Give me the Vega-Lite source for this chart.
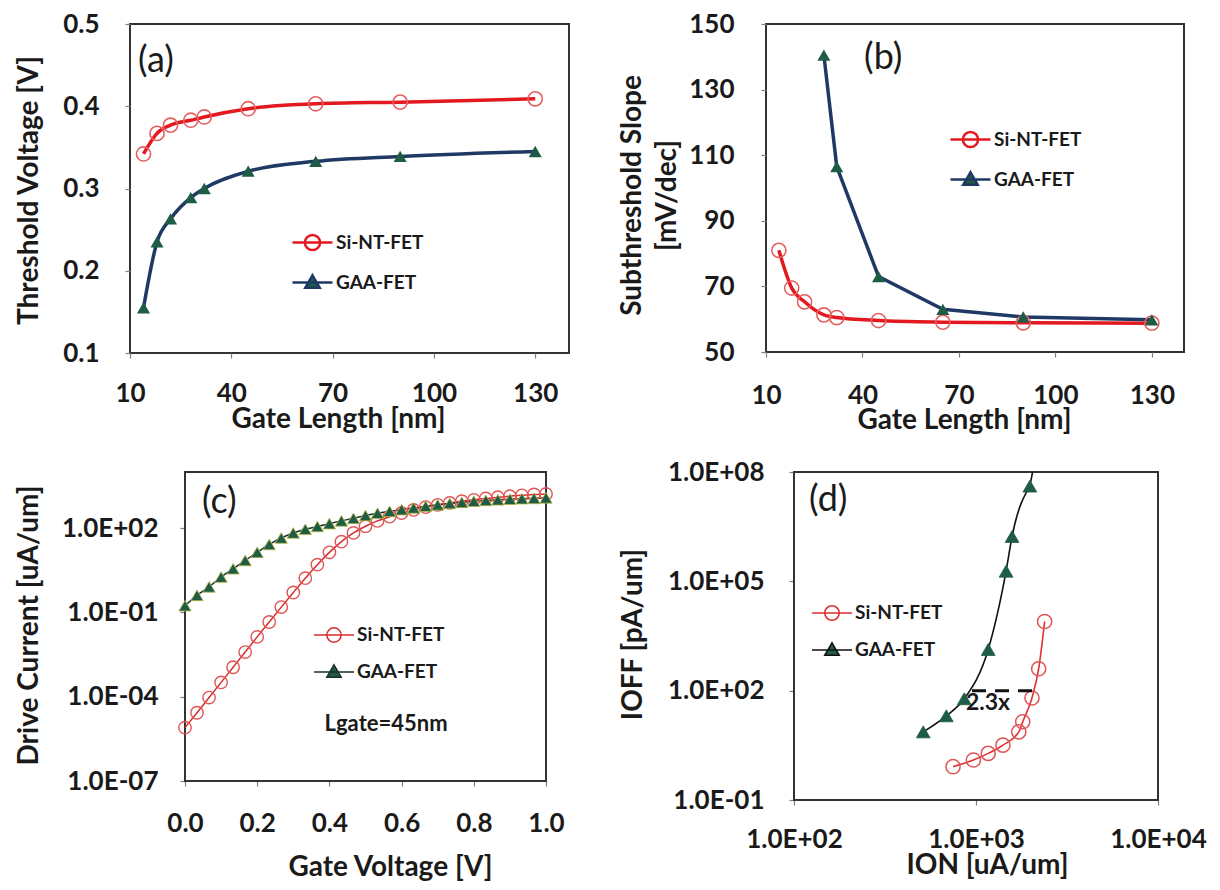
{
  "$schema": "https://vega.github.io/schema/vega-lite/v6.json",
  "background": "white",
  "padding": {"left": 13, "top": 10, "right": 5, "bottom": 5},
  "config": {
    "font": "Lato",
    "view": {"stroke": "#333333", "strokeWidth": 2},
    "axis": {
      "labelFont": "Lato", "labelFontWeight": "bold", "labelFontSize": 26, "labelColor": "#1a1a1a",
      "titleFont": "Lato", "titleFontWeight": "bold", "titleFontSize": 28, "titleColor": "#1a1a1a",
      "titleBaseline": "middle",
      "grid": false, "domain": false, "tickColor": "#7f7f7f", "tickSize": 5, "tickWidth": 1.2,
      "labelFlush": false, "labelOverlap": false
    },
    "axisX": {"labelBaseline": "middle"},
    "legend": {
      "orient": "none", "padding": 0, "labelFont": "Lato", "labelFontSize": 19, "labelFontWeight": "bold",
      "labelColor": "#1a1a1a", "labelOffset": 2, "rowPadding": 5, "symbolSize": 1600
    },
    "text": {"font": "Lato", "color": "#1a1a1a"},
    "tick": {"color": "#8c8c8c", "thickness": 1, "size": 6, "opacity": 1}
  },
  "datasets": {
    "vth": [
      {"L": 14, "Vt": 0.342, "device": "Si-NT-FET"},
      {"L": 18, "Vt": 0.367, "device": "Si-NT-FET"},
      {"L": 22, "Vt": 0.377, "device": "Si-NT-FET"},
      {"L": 28, "Vt": 0.383, "device": "Si-NT-FET"},
      {"L": 32, "Vt": 0.387, "device": "Si-NT-FET"},
      {"L": 45, "Vt": 0.397, "device": "Si-NT-FET"},
      {"L": 65, "Vt": 0.403, "device": "Si-NT-FET"},
      {"L": 90, "Vt": 0.405, "device": "Si-NT-FET"},
      {"L": 130, "Vt": 0.409, "device": "Si-NT-FET"},
      {"L": 14, "Vt": 0.155, "device": "GAA-FET"},
      {"L": 18, "Vt": 0.235, "device": "GAA-FET"},
      {"L": 22, "Vt": 0.263, "device": "GAA-FET"},
      {"L": 28, "Vt": 0.289, "device": "GAA-FET"},
      {"L": 32, "Vt": 0.300, "device": "GAA-FET"},
      {"L": 45, "Vt": 0.321, "device": "GAA-FET"},
      {"L": 65, "Vt": 0.333, "device": "GAA-FET"},
      {"L": 90, "Vt": 0.339, "device": "GAA-FET"},
      {"L": 130, "Vt": 0.345, "device": "GAA-FET"}
    ],
    "ss": [
      {"L": 14, "SS": 81, "device": "Si-NT-FET"},
      {"L": 18, "SS": 69.5, "device": "Si-NT-FET"},
      {"L": 22, "SS": 65.3, "device": "Si-NT-FET"},
      {"L": 28, "SS": 61.3, "device": "Si-NT-FET"},
      {"L": 32, "SS": 60.5, "device": "Si-NT-FET"},
      {"L": 45, "SS": 59.6, "device": "Si-NT-FET"},
      {"L": 65, "SS": 59.1, "device": "Si-NT-FET"},
      {"L": 90, "SS": 58.9, "device": "Si-NT-FET"},
      {"L": 130, "SS": 58.8, "device": "Si-NT-FET"},
      {"L": 28, "SS": 140.5, "device": "GAA-FET"},
      {"L": 32, "SS": 106.5, "device": "GAA-FET"},
      {"L": 45, "SS": 73, "device": "GAA-FET"},
      {"L": 65, "SS": 63, "device": "GAA-FET"},
      {"L": 90, "SS": 60.7, "device": "GAA-FET"},
      {"L": 130, "SS": 59.8, "device": "GAA-FET"}
    ],
    "idvg": [
      {"Vg": 0, "Id": 7.94e-6, "device": "Si-NT-FET"},
      {"Vg": 0.0333, "Id": 2.69e-5, "device": "Si-NT-FET"},
      {"Vg": 0.0667, "Id": 9.33e-5, "device": "Si-NT-FET"},
      {"Vg": 0.1, "Id": 3.24e-4, "device": "Si-NT-FET"},
      {"Vg": 0.1333, "Id": 1.12e-3, "device": "Si-NT-FET"},
      {"Vg": 0.1667, "Id": 3.89e-3, "device": "Si-NT-FET"},
      {"Vg": 0.2, "Id": 1.35e-2, "device": "Si-NT-FET"},
      {"Vg": 0.2333, "Id": 4.57e-2, "device": "Si-NT-FET"},
      {"Vg": 0.2667, "Id": 0.155, "device": "Si-NT-FET"},
      {"Vg": 0.3, "Id": 0.513, "device": "Si-NT-FET"},
      {"Vg": 0.3333, "Id": 1.66, "device": "Si-NT-FET"},
      {"Vg": 0.3667, "Id": 5.01, "device": "Si-NT-FET"},
      {"Vg": 0.4, "Id": 13.8, "device": "Si-NT-FET"},
      {"Vg": 0.4333, "Id": 33.1, "device": "Si-NT-FET"},
      {"Vg": 0.4667, "Id": 67.6, "device": "Si-NT-FET"},
      {"Vg": 0.5, "Id": 117, "device": "Si-NT-FET"},
      {"Vg": 0.5333, "Id": 182, "device": "Si-NT-FET"},
      {"Vg": 0.5667, "Id": 257, "device": "Si-NT-FET"},
      {"Vg": 0.6, "Id": 347, "device": "Si-NT-FET"},
      {"Vg": 0.6333, "Id": 447, "device": "Si-NT-FET"},
      {"Vg": 0.6667, "Id": 562, "device": "Si-NT-FET"},
      {"Vg": 0.7, "Id": 676, "device": "Si-NT-FET"},
      {"Vg": 0.7333, "Id": 794, "device": "Si-NT-FET"},
      {"Vg": 0.7667, "Id": 912, "device": "Si-NT-FET"},
      {"Vg": 0.8, "Id": 1023, "device": "Si-NT-FET"},
      {"Vg": 0.8333, "Id": 1148, "device": "Si-NT-FET"},
      {"Vg": 0.8667, "Id": 1259, "device": "Si-NT-FET"},
      {"Vg": 0.9, "Id": 1380, "device": "Si-NT-FET"},
      {"Vg": 0.9333, "Id": 1479, "device": "Si-NT-FET"},
      {"Vg": 0.9667, "Id": 1585, "device": "Si-NT-FET"},
      {"Vg": 1, "Id": 1660, "device": "Si-NT-FET"},
      {"Vg": 0, "Id": 0.174, "device": "GAA-FET"},
      {"Vg": 0.0333, "Id": 0.407, "device": "GAA-FET"},
      {"Vg": 0.0667, "Id": 0.813, "device": "GAA-FET"},
      {"Vg": 0.1, "Id": 1.82, "device": "GAA-FET"},
      {"Vg": 0.1333, "Id": 3.59, "device": "GAA-FET"},
      {"Vg": 0.1667, "Id": 7.08, "device": "GAA-FET"},
      {"Vg": 0.2, "Id": 13.8, "device": "GAA-FET"},
      {"Vg": 0.2333, "Id": 26.3, "device": "GAA-FET"},
      {"Vg": 0.2667, "Id": 44.7, "device": "GAA-FET"},
      {"Vg": 0.3, "Id": 67.6, "device": "GAA-FET"},
      {"Vg": 0.3333, "Id": 91.2, "device": "GAA-FET"},
      {"Vg": 0.3667, "Id": 115, "device": "GAA-FET"},
      {"Vg": 0.4, "Id": 145, "device": "GAA-FET"},
      {"Vg": 0.4333, "Id": 182, "device": "GAA-FET"},
      {"Vg": 0.4667, "Id": 224, "device": "GAA-FET"},
      {"Vg": 0.5, "Id": 282, "device": "GAA-FET"},
      {"Vg": 0.5333, "Id": 339, "device": "GAA-FET"},
      {"Vg": 0.5667, "Id": 398, "device": "GAA-FET"},
      {"Vg": 0.6, "Id": 457, "device": "GAA-FET"},
      {"Vg": 0.6333, "Id": 525, "device": "GAA-FET"},
      {"Vg": 0.6667, "Id": 603, "device": "GAA-FET"},
      {"Vg": 0.7, "Id": 676, "device": "GAA-FET"},
      {"Vg": 0.7333, "Id": 759, "device": "GAA-FET"},
      {"Vg": 0.7667, "Id": 832, "device": "GAA-FET"},
      {"Vg": 0.8, "Id": 912, "device": "GAA-FET"},
      {"Vg": 0.8333, "Id": 977, "device": "GAA-FET"},
      {"Vg": 0.8667, "Id": 1023, "device": "GAA-FET"},
      {"Vg": 0.9, "Id": 1072, "device": "GAA-FET"},
      {"Vg": 0.9333, "Id": 1122, "device": "GAA-FET"},
      {"Vg": 0.9667, "Id": 1148, "device": "GAA-FET"},
      {"Vg": 1, "Id": 1202, "device": "GAA-FET"}
    ],
    "ioffion": [
      {"Ion": 748, "Ioff": 0.82, "device": "Si-NT-FET"},
      {"Ion": 968, "Ioff": 1.25, "device": "Si-NT-FET"},
      {"Ion": 1167, "Ioff": 1.9, "device": "Si-NT-FET"},
      {"Ion": 1406, "Ioff": 3.2, "device": "Si-NT-FET"},
      {"Ion": 1718, "Ioff": 7.4, "device": "Si-NT-FET"},
      {"Ion": 1806, "Ioff": 14, "device": "Si-NT-FET"},
      {"Ion": 2030, "Ioff": 63, "device": "Si-NT-FET"},
      {"Ion": 2210, "Ioff": 400, "device": "Si-NT-FET"},
      {"Ion": 2383, "Ioff": 7900, "device": "Si-NT-FET"},
      {"Ion": 513, "Ioff": 7.4, "device": "GAA-FET"},
      {"Ion": 687, "Ioff": 20.4, "device": "GAA-FET"},
      {"Ion": 862, "Ioff": 60, "device": "GAA-FET"},
      {"Ion": 1167, "Ioff": 1350, "device": "GAA-FET"},
      {"Ion": 1463, "Ioff": 190000, "device": "GAA-FET"},
      {"Ion": 1578, "Ioff": 1700000, "device": "GAA-FET"},
      {"Ion": 1977, "Ioff": 41000000, "device": "GAA-FET"}
    ],
    "gaaTail": [
      {"Ion": 1977, "Ioff": 41000000},
      {"Ion": 2046, "Ioff": 100000000}
    ],
    "gap": [{"Ion": 951, "IonB": 2083, "Ioff": 100}],
    "gapLabel": [{"Ion": 1164, "Ioff": 47, "label": "2.3x"}],
    "lgate": [{"Vg": 0.557, "Id": 1.07e-5, "label": "Lgate=45nm"}],
    "tagA": [{"L": 12.4, "Vt": 0.455, "label": "(a)"}],
    "tagB": [{"L": 40.5, "SS": 139.6, "label": "(b)"}],
    "tagC": [{"Vg": 0.047, "Id": 855, "label": "(c)"}],
    "tagD": [{"Ion": 121, "Ioff": 17000000, "label": "(d)"}],
    "minorAx": [{"L": 20}, {"L": 30}, {"L": 40}, {"L": 50}, {"L": 60}, {"L": 70}, {"L": 80}, {"L": 90}, {"L": 100}, {"L": 110}, {"L": 120}, {"L": 130}],
    "minorAy": [{"Vt": 0.15}, {"Vt": 0.2}, {"Vt": 0.25}, {"Vt": 0.3}, {"Vt": 0.35}, {"Vt": 0.4}, {"Vt": 0.45}],
    "minorBx": [{"L": 15}, {"L": 20}, {"L": 25}, {"L": 30}, {"L": 35}, {"L": 40}, {"L": 45}, {"L": 50}, {"L": 55}, {"L": 60}, {"L": 65}, {"L": 70}, {"L": 75}, {"L": 80}, {"L": 85}, {"L": 90}, {"L": 95}, {"L": 100}, {"L": 105}, {"L": 110}, {"L": 115}, {"L": 120}, {"L": 125}, {"L": 130}, {"L": 135}],
    "minorBy": [{"SS": 54}, {"SS": 58}, {"SS": 62}, {"SS": 66}, {"SS": 70}, {"SS": 74}, {"SS": 78}, {"SS": 82}, {"SS": 86}, {"SS": 90}, {"SS": 94}, {"SS": 98}, {"SS": 102}, {"SS": 106}, {"SS": 110}, {"SS": 114}, {"SS": 118}, {"SS": 122}, {"SS": 126}, {"SS": 130}, {"SS": 134}, {"SS": 138}, {"SS": 142}, {"SS": 146}],
    "minorCx": [{"Vg": 0.1}, {"Vg": 0.2}, {"Vg": 0.3}, {"Vg": 0.4}, {"Vg": 0.5}, {"Vg": 0.6}, {"Vg": 0.7}, {"Vg": 0.8}, {"Vg": 0.9}],
    "minorCy": [
      {"Id": 2e-7}, {"Id": 4e-7}, {"Id": 6e-7}, {"Id": 8e-7},
      {"Id": 2e-6}, {"Id": 4e-6}, {"Id": 6e-6}, {"Id": 8e-6},
      {"Id": 2e-5}, {"Id": 4e-5}, {"Id": 6e-5}, {"Id": 8e-5},
      {"Id": 2e-4}, {"Id": 4e-4}, {"Id": 6e-4}, {"Id": 8e-4},
      {"Id": 2e-3}, {"Id": 4e-3}, {"Id": 6e-3}, {"Id": 8e-3},
      {"Id": 2e-2}, {"Id": 4e-2}, {"Id": 6e-2}, {"Id": 8e-2},
      {"Id": 0.2}, {"Id": 0.4}, {"Id": 0.6}, {"Id": 0.8},
      {"Id": 2}, {"Id": 4}, {"Id": 6}, {"Id": 8},
      {"Id": 20}, {"Id": 40}, {"Id": 60}, {"Id": 80},
      {"Id": 200}, {"Id": 400}, {"Id": 600}, {"Id": 800},
      {"Id": 2000}, {"Id": 4000}, {"Id": 6000}, {"Id": 8000}
    ],
    "minorDx": [
      {"Ion": 200}, {"Ion": 300}, {"Ion": 400}, {"Ion": 500}, {"Ion": 600}, {"Ion": 700}, {"Ion": 800}, {"Ion": 900}, {"Ion": 1000},
      {"Ion": 2000}, {"Ion": 3000}, {"Ion": 4000}, {"Ion": 5000}, {"Ion": 6000}, {"Ion": 7000}, {"Ion": 8000}, {"Ion": 9000}
    ],
    "minorDy": [
      {"Ioff": 0.2}, {"Ioff": 0.4}, {"Ioff": 0.6}, {"Ioff": 0.8},
      {"Ioff": 2}, {"Ioff": 4}, {"Ioff": 6}, {"Ioff": 8},
      {"Ioff": 20}, {"Ioff": 40}, {"Ioff": 60}, {"Ioff": 80},
      {"Ioff": 200}, {"Ioff": 400}, {"Ioff": 600}, {"Ioff": 800},
      {"Ioff": 2000}, {"Ioff": 4000}, {"Ioff": 6000}, {"Ioff": 8000},
      {"Ioff": 20000}, {"Ioff": 40000}, {"Ioff": 60000}, {"Ioff": 80000},
      {"Ioff": 200000}, {"Ioff": 400000}, {"Ioff": 600000}, {"Ioff": 800000},
      {"Ioff": 2000000}, {"Ioff": 4000000}, {"Ioff": 6000000}, {"Ioff": 8000000},
      {"Ioff": 20000000}, {"Ioff": 40000000}, {"Ioff": 60000000}, {"Ioff": 80000000}
    ],
    "frameC": [{"Vg": 0, "Vg2": 1, "Id": 1e-7, "Id2": 10000}],
    "frameD": [{"Ion": 100, "Ion2": 10000, "Ioff": 0.1, "Ioff2": 100000000}]
  },
  "columns": 2,
  "align": "each",
  "spacing": {"row": 24, "column": 46},
  "resolve": {"scale": {"color": "independent"}, "legend": {"color": "independent"}},
  "concat": [
    {
      "width": 439, "height": 329,
      "encoding": {
        "x": {"field": "L", "type": "quantitative", "scale": {"domain": [10, 140], "nice": false, "zero": false},
              "axis": {"values": [10, 40, 70, 100, 130], "title": "Gate Length [nm]", "labelPadding": 35, "titleX": 208, "titleY": 66}},
        "y": {"field": "Vt", "type": "quantitative", "scale": {"domain": [0.1, 0.5], "nice": false, "zero": false},
              "axis": {"values": [0.1, 0.2, 0.3, 0.4, 0.5], "format": ".1f", "title": "Threshold Voltage [V]", "labelPadding": 26, "titleX": -101, "titleY": 166}}
      },
      "layer": [
        {"data": {"name": "minorAx"}, "mark": {"type": "tick", "orient": "vertical", "yOffset": -3},
         "encoding": {"y": {"datum": 0.1, "type": "quantitative"}}},
        {"data": {"name": "minorAy"}, "mark": {"type": "tick", "orient": "horizontal", "xOffset": 3},
         "encoding": {"x": {"datum": 10, "type": "quantitative"}}},
        {"data": {"name": "vth"},
         "mark": {"type": "line", "interpolate": "monotone", "strokeWidth": 3.5},
         "encoding": {"color": {"field": "device", "type": "nominal",
           "scale": {"domain": ["Si-NT-FET", "GAA-FET"], "range": ["#e3191f", "#1f3864"]},
           "legend": {"title": null, "legendX": 161, "legendY": 197, "symbolStrokeWidth": 2.5,
             "encode": {"symbols": {"update": {
               "shape": {"signal": "datum.value === 'GAA-FET' ? 'M-1,0H1M0,-0.36L0.36,0.26L-0.36,0.26Z' : 'M-1,0H1M0.38,0A0.38,0.38,0,1,1,-0.38,0A0.38,0.38,0,1,1,0.38,0'"},
               "fill": {"signal": "datum.value === 'GAA-FET' ? '#1f5c45' : 'transparent'"}}}}}}}},
        {"data": {"name": "vth"}, "transform": [{"filter": "datum.device === 'Si-NT-FET'"}],
         "mark": {"type": "point", "shape": "circle", "size": 200, "filled": false, "stroke": "#e46060", "strokeWidth": 1.6, "opacity": 1}},
        {"data": {"name": "vth"}, "transform": [{"filter": "datum.device === 'GAA-FET'"}],
         "mark": {"type": "point", "shape": "triangle-up", "size": 170, "filled": true, "color": "#1f5c45", "opacity": 1}},
        {"data": {"name": "tagA"},
         "mark": {"type": "text", "fontSize": 36, "align": "left", "baseline": "middle"},
         "encoding": {"text": {"field": "label"}}}
      ]
    },
    {
      "width": 418, "height": 328,
      "encoding": {
        "x": {"field": "L", "type": "quantitative", "scale": {"domain": [10, 140], "nice": false, "zero": false},
              "axis": {"values": [10, 40, 70, 100, 130], "title": "Gate Length [nm]", "labelPadding": 38, "titleX": 198, "titleY": 68}},
        "y": {"field": "SS", "type": "quantitative", "scale": {"domain": [50, 150], "nice": false, "zero": false},
              "axis": {"values": [50, 70, 90, 110, 130, 150], "title": ["Subthreshold Slope", "[mV/dec]"], "titleLineHeight": 35, "labelPadding": 27, "titleX": -134, "titleY": 171}}
      },
      "layer": [
        {"data": {"name": "minorBx"}, "mark": {"type": "tick", "orient": "vertical", "yOffset": -3},
         "encoding": {"y": {"datum": 50, "type": "quantitative"}}},
        {"data": {"name": "minorBy"}, "mark": {"type": "tick", "orient": "horizontal", "xOffset": 3},
         "encoding": {"x": {"datum": 10, "type": "quantitative"}}},
        {"data": {"name": "ss"}, "transform": [{"filter": "datum.device === 'Si-NT-FET'"}],
         "mark": {"type": "line", "interpolate": "monotone", "strokeWidth": 3.5},
         "encoding": {"color": {"field": "device", "type": "nominal",
           "scale": {"domain": ["Si-NT-FET", "GAA-FET"], "range": ["#e3191f", "#1f3864"]},
           "legend": {"title": null, "legendX": 183, "legendY": 94, "symbolStrokeWidth": 2.5,
             "encode": {"symbols": {"update": {
               "shape": {"signal": "datum.value === 'GAA-FET' ? 'M-1,0H1M0,-0.36L0.36,0.26L-0.36,0.26Z' : 'M-1,0H1M0.38,0A0.38,0.38,0,1,1,-0.38,0A0.38,0.38,0,1,1,0.38,0'"},
               "fill": {"signal": "datum.value === 'GAA-FET' ? '#1f5c45' : 'transparent'"}}}}}}}},
        {"data": {"name": "ss"}, "transform": [{"filter": "datum.device === 'GAA-FET'"}],
         "mark": {"type": "line", "strokeWidth": 3.5, "color": "#1f3864"}},
        {"data": {"name": "ss"}, "transform": [{"filter": "datum.device === 'Si-NT-FET'"}],
         "mark": {"type": "point", "shape": "circle", "size": 200, "filled": false, "stroke": "#e46060", "strokeWidth": 1.6, "opacity": 1}},
        {"data": {"name": "ss"}, "transform": [{"filter": "datum.device === 'GAA-FET'"}],
         "mark": {"type": "point", "shape": "triangle-up", "size": 170, "filled": true, "color": "#1f5c45", "opacity": 1}},
        {"data": {"name": "tagB"},
         "mark": {"type": "text", "fontSize": 36, "align": "left", "baseline": "middle"},
         "encoding": {"text": {"field": "label"}}}
      ]
    },
    {
      "width": 416, "height": 309,
      "view": {"stroke": null},
      "encoding": {
        "x": {"field": "Vg", "type": "quantitative", "scale": {"domain": [0, 1], "range": [55, 416], "nice": false, "zero": false},
              "axis": {"values": [0, 0.2, 0.4, 0.6, 0.8, 1.0], "format": ".1f", "title": "Gate Voltage [V]", "labelPadding": 37, "titleX": 260, "titleY": 86}},
        "y": {"field": "Id", "type": "quantitative", "scale": {"type": "log", "domain": [1e-7, 10000], "nice": false},
              "axis": {"values": [1e-7, 1e-4, 0.1, 100], "offset": -55, "labelExpr": "'1.0E' + (datum.value >= 1 ? '+' : '-') + (abs(round(log(datum.value) / LN10)) < 10 ? '0' : '') + abs(round(log(datum.value) / LN10))",
                       "title": "Drive Current [uA/um]", "labelPadding": 22, "titleX": -156, "titleY": 153}}
      },
      "layer": [
        {"data": {"name": "frameC"},
         "mark": {"type": "rect", "filled": false, "stroke": "#333333", "strokeWidth": 2},
         "encoding": {"x2": {"field": "Vg2"}, "y2": {"field": "Id2"}}},
        {"data": {"name": "minorCx"}, "mark": {"type": "tick", "orient": "vertical", "yOffset": -3},
         "encoding": {"y": {"datum": 1e-7, "type": "quantitative"}}},
        {"data": {"name": "minorCy"}, "mark": {"type": "tick", "orient": "horizontal", "xOffset": 3},
         "encoding": {"x": {"datum": 0, "type": "quantitative"}}},
        {"data": {"name": "idvg"},
         "mark": {"type": "line", "interpolate": "monotone", "strokeWidth": 1.5},
         "encoding": {"color": {"field": "device", "type": "nominal",
           "scale": {"domain": ["Si-NT-FET", "GAA-FET"], "range": ["#d92b2b", "#1c2f2a"]},
           "legend": {"title": null, "legendX": 183, "legendY": 142, "symbolStrokeWidth": 1.5,
             "encode": {"symbols": {"update": {
               "shape": {"signal": "datum.value === 'GAA-FET' ? 'M-1,0H1M0,-0.36L0.36,0.26L-0.36,0.26Z' : 'M-1,0H1M0.36,0A0.36,0.36,0,1,1,-0.36,0A0.36,0.36,0,1,1,0.36,0'"},
               "fill": {"signal": "datum.value === 'GAA-FET' ? '#1f5c45' : 'transparent'"}}}}}}}},
        {"data": {"name": "idvg"}, "transform": [{"filter": "datum.device === 'Si-NT-FET'"}],
         "mark": {"type": "point", "shape": "circle", "size": 154, "filled": false, "stroke": "#e05555", "strokeWidth": 1.4, "opacity": 1}},
        {"data": {"name": "idvg"}, "transform": [{"filter": "datum.device === 'GAA-FET'"}],
         "mark": {"type": "point", "shape": "triangle-up", "size": 150, "filled": true, "fill": "#1f5c45", "stroke": "#b8b84a", "strokeWidth": 0.8, "opacity": 1}},
        {"data": {"name": "lgate"},
         "mark": {"type": "text", "fontWeight": "bold", "fontSize": 22},
         "encoding": {"text": {"field": "label"}}},
        {"data": {"name": "tagC"},
         "mark": {"type": "text", "fontSize": 36, "align": "left", "baseline": "middle"},
         "encoding": {"text": {"field": "label"}}}
      ]
    },
    {
      "width": 392, "height": 328,
      "view": {"stroke": null},
      "encoding": {
        "x": {"field": "Ion", "type": "quantitative", "scale": {"type": "log", "domain": [100, 10000], "range": [28, 392], "nice": false},
              "axis": {"values": [100, 1000, 10000], "labelExpr": "'1.0E' + (datum.value >= 1 ? '+' : '-') + (abs(round(log(datum.value) / LN10)) < 10 ? '0' : '') + abs(round(log(datum.value) / LN10))",
                       "title": "ION [uA/um]", "labelPadding": 34, "titleX": 221, "titleY": 65}},
        "y": {"field": "Ioff", "type": "quantitative", "scale": {"type": "log", "domain": [0.1, 100000000], "nice": false},
              "axis": {"values": [0.1, 100, 100000, 100000000], "offset": -28, "labelExpr": "'1.0E' + (datum.value >= 1 ? '+' : '-') + (abs(round(log(datum.value) / LN10)) < 10 ? '0' : '') + abs(round(log(datum.value) / LN10))",
                       "title": "IOFF [pA/um]", "labelPadding": 25, "titleX": -161, "titleY": 162}}
      },
      "layer": [
        {"data": {"name": "frameD"},
         "mark": {"type": "rect", "filled": false, "stroke": "#333333", "strokeWidth": 2},
         "encoding": {"x2": {"field": "Ion2"}, "y2": {"field": "Ioff2"}}},
        {"data": {"name": "minorDx"}, "mark": {"type": "tick", "orient": "vertical", "yOffset": -3},
         "encoding": {"y": {"datum": 0.1, "type": "quantitative"}}},
        {"data": {"name": "minorDy"}, "mark": {"type": "tick", "orient": "horizontal", "xOffset": 3},
         "encoding": {"x": {"datum": 100, "type": "quantitative"}}},
        {"data": {"name": "ioffion"},
         "mark": {"type": "line", "interpolate": "monotone", "strokeWidth": 1.6},
         "encoding": {"color": {"field": "device", "type": "nominal",
           "scale": {"domain": ["Si-NT-FET", "GAA-FET"], "range": ["#e03030", "#111111"]},
           "legend": {"title": null, "legendX": 45, "legendY": 120, "symbolStrokeWidth": 1.6,
             "encode": {"symbols": {"update": {
               "shape": {"signal": "datum.value === 'GAA-FET' ? 'M-1,0H1M0,-0.36L0.36,0.26L-0.36,0.26Z' : 'M-1,0H1M0.36,0A0.36,0.36,0,1,1,-0.36,0A0.36,0.36,0,1,1,0.36,0'"},
               "fill": {"signal": "datum.value === 'GAA-FET' ? '#1f5c45' : 'transparent'"}}}}}}}},
        {"data": {"name": "gaaTail"},
         "mark": {"type": "line", "strokeWidth": 1.6, "color": "#111111"}},
        {"data": {"name": "ioffion"}, "transform": [{"filter": "datum.device === 'Si-NT-FET'"}],
         "mark": {"type": "point", "shape": "circle", "size": 200, "filled": false, "stroke": "#e05555", "strokeWidth": 1.5, "opacity": 1}},
        {"data": {"name": "ioffion"}, "transform": [{"filter": "datum.device === 'GAA-FET'"}],
         "mark": {"type": "point", "shape": "triangle-up", "size": 190, "filled": true, "fill": "#1f5c45", "stroke": "#1f5c45", "strokeWidth": 0.8, "opacity": 1}},
        {"data": {"name": "gap"},
         "mark": {"type": "rule", "color": "#111111", "strokeWidth": 3, "strokeDash": [14, 9]},
         "encoding": {"x2": {"field": "IonB"}}},
        {"data": {"name": "gapLabel"},
         "mark": {"type": "text", "fontWeight": "bold", "fontSize": 23},
         "encoding": {"text": {"field": "label"}}},
        {"data": {"name": "tagD"},
         "mark": {"type": "text", "fontSize": 36, "align": "left", "baseline": "middle"},
         "encoding": {"text": {"field": "label"}}}
      ]
    }
  ]
}
